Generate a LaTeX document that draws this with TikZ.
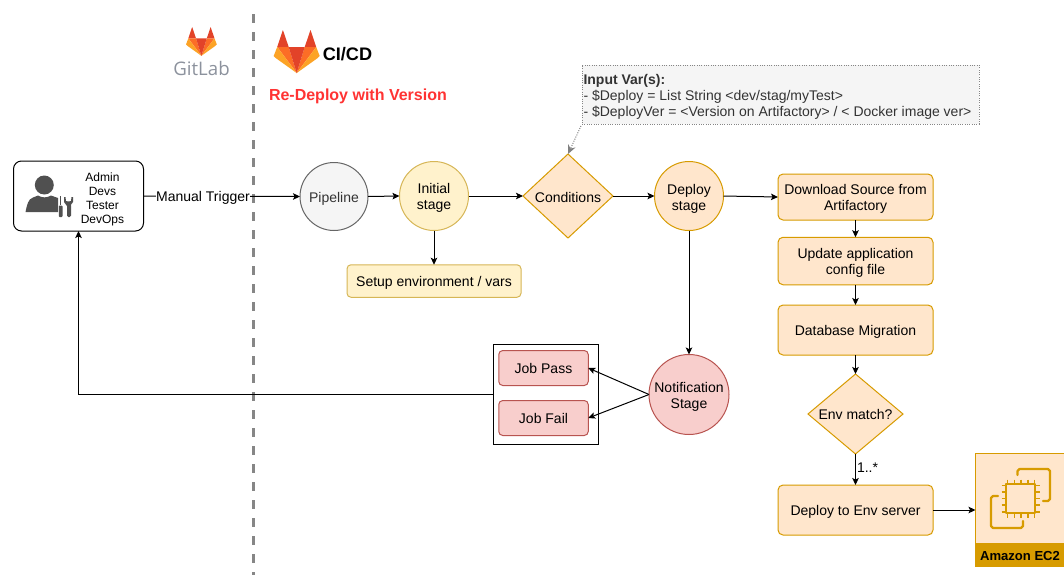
\documentclass[tikz,border=0pt]{standalone}
\usepackage{fontspec}
\setmainfont{Liberation Sans}
\newfontfamily\logofont{Open Sans}
\usetikzlibrary{arrows.meta,shapes.geometric}
\def\px{0.75pt}
\definecolor{orfill}{HTML}{FFE6CC}
\definecolor{orline}{HTML}{D79B00}
\definecolor{yefill}{HTML}{FFF2CC}
\definecolor{yeline}{HTML}{D6B656}
\definecolor{refill}{HTML}{F8CECC}
\definecolor{reline}{HTML}{B85450}
\definecolor{grfill}{HTML}{F5F5F5}
\definecolor{grline}{HTML}{666666}
\definecolor{grtext}{HTML}{333333}
\definecolor{foxa}{HTML}{E24329}
\definecolor{foxb}{HTML}{FC6D26}
\definecolor{foxc}{HTML}{FCA326}
\definecolor{iconc}{HTML}{505050}
\definecolor{logogray}{HTML}{8C929D}
\tikzset{
  x=0.75pt,y=-0.75pt,
  every node/.style={font=\fontsize{10.5pt}{12pt}\selectfont,align=center,inner sep=0pt,outer sep=0pt,line width=\px,
    execute at begin node={\rule{0pt}{10.6pt}},execute at end node={\rule[-1.7pt]{0pt}{1.7pt}}},
  conn/.style={draw=black,line width=\px,-{Stealth[length=7*\px,width=6.5*\px,inset=1.5*\px]}},
  circ/.style={circle,draw,minimum size=#1*\px},
  orbox/.style={draw=orline,fill=orfill,rounded corners=5*\px,minimum width=155*\px},
  jobbox/.style={draw=reline,fill=refill,rounded corners=4*\px,minimum width=89.5*\px,minimum height=35*\px},
  dia/.style={diamond,draw=orline,fill=orfill,inner sep=0pt},
  chip/.style={draw=orline,line width=2.2*\px,line cap=round,line join=round}
}
\newcommand{\foxlogo}[3]{% left, top, scale (width/46)
  \begin{scope}[shift={(#1,#2)},x=#3*0.75pt,y=-#3*0.75pt]
    \fill[foxa] (9.2,0) -- (3.5,17) -- (15,17) -- cycle;
    \fill[foxa] (36.8,0) -- (42.5,17) -- (31,17) -- cycle;
    \fill[foxb] (3.5,17) -- (15,17) -- (23,43) -- cycle;
    \fill[foxb] (42.5,17) -- (31,17) -- (23,43) -- cycle;
    \fill[foxc] (3.5,17) -- (0,26) -- (2,28) -- (23,43) -- cycle;
    \fill[foxc] (42.5,17) -- (46,26) -- (44,28) -- (23,43) -- cycle;
    \fill[foxa] (15,17) -- (31,17) -- (23,43) -- cycle;
  \end{scope}}
\begin{document}
\begin{tikzpicture}
\useasboundingbox (0,0) rectangle (1064,576);
\fill[white] (0,0) rectangle (1064,576);

% divider
\draw[draw=gray!95,line width=3*\px,dash pattern=on 9*\px off 9*\px] (253.5,14) -- (253.5,575);

% logos
\foxlogo{186}{27}{0.67}
\node[text=logogray,font=\logofont\fontsize{14pt}{16pt}\selectfont] (gitlab) at (201.5,69.5) {GitLab};
\foxlogo{273.7}{30}{1}
\node[font=\bfseries\fontsize{13.6pt}{15pt}\selectfont] (cicd) at (347.5,54.5) {CI/CD};
\node[anchor=west,text={rgb,255:red,255;green,51;blue,51},font=\bfseries\fontsize{12pt}{14pt}\selectfont] (title) at (269,95) {Re-Deploy with Version};

% actor
\node[draw,rounded corners=8*\px,minimum width=130*\px,minimum height=70*\px] (actor) at (78.5,196) {};
\node[font=\fontsize{9pt}{10.5pt}\selectfont] (actortext) at (102.5,199.5) {Admin\\Devs\\Tester\\DevOps};
\fill[iconc] (44.3,185) circle (9.5);
\fill[iconc] (25.5,212) .. controls (27,205) and (28,199) .. (33,197.5) -- (38,195.5) .. controls (42,198) and (47,198) .. (51,195.5) -- (58,198) -- (58,212) -- cycle;
\fill[iconc,rounded corners=0.7] (58.8,205.5) rectangle (62.5,217);
\fill[iconc] (60,196) rectangle (61.3,205);
\fill[iconc,rounded corners=1] (67,204) rectangle (71,217);
\fill[iconc] (64,197) -- (65.5,197) -- (66,201) -- (68.5,201.5) -- (71,201) -- (71.5,197) -- (73,197) -- (73,202) -- (70,206) -- (67,206) -- (64,202) -- cycle;

% flow nodes
\node[circ=68,draw=grline,fill=grfill,text=grtext] (pipeline) at (334,196.5) {Pipeline};
\node[circ=69,draw=yeline,fill=yefill] (initial) at (434,196) {};
\node (initialtext) at (434,198) {Initial\\stage};
\node[draw=yeline,fill=yefill,rounded corners=4*\px,minimum width=174*\px,minimum height=32.5*\px] (setup) at (434,281) {Setup environment / vars};
\node[dia,minimum width=90*\px,minimum height=84*\px] (cond) at (568,196) {};
\node (condtext) at (568,196.5) {Conditions};
\node[circ=69,draw=orline,fill=orfill] (deploy) at (689,196) {};
\node (deploytext) at (689,198.5) {Deploy\\stage};
\node[orbox,minimum height=46*\px] (download) at (855.5,197) {};
\node (downloadtext) at (855.5,199) {Download Source from\\Artifactory};
\node[orbox,minimum height=47.5*\px] (update) at (855.5,261) {};
\node (updatetext) at (855.5,263) {Update application\\config file};
\node[orbox,minimum height=50*\px] (db) at (855.5,330) {Database Migration};
\node[dia,minimum width=95*\px,minimum height=80*\px] (env) at (855.5,414) {};
\node (envtext) at (855.5,414) {Env match?};
\node[orbox,minimum height=50*\px] (server) at (855.5,510) {Deploy to Env server};
\node[circ=80,draw=reline,fill=refill] (notif) at (689,394.5) {};
\node (notiftext) at (689,396.5) {Notification\\Stage};
\node[draw=black,fill=white,minimum width=104.5*\px,minimum height=99.5*\px] (jobs) at (545.75,394.5) {};
\node[jobbox] (pass) at (543.5,368) {Job Pass};
\node[jobbox] (fail) at (543.5,418) {Job Fail};

% note
\node[draw=grline!80,densely dotted,fill=grfill,anchor=north west,minimum width=397*\px,minimum height=59*\px] (note) at (582,65) {};
\node[text=grtext,anchor=north west,align=left,font=\fontsize{10.5pt}{12pt}\selectfont] (notetext) at (583.5,74.5) {\textbf{Input Var(s):}\\- \$Deploy = List String <dev/stag/myTest>\\- \$DeployVer = <Version on Artifactory> / < Docker image ver>};

% EC2
\node[draw=orline,fill=orfill,anchor=north west,minimum width=92*\px,minimum height=112.5*\px] (ec2) at (975.5,453.5) {};
\node[fill=orline,anchor=north west,minimum width=92*\px,minimum height=23*\px] (ec2band) at (975.5,543) {};
\node[font=\bfseries\fontsize{9.8pt}{12pt}\selectfont] (ec2text) at (1020,554.5) {Amazon EC2};
\draw[chip] (1017.5,475) -- (1017.5,471) -- (1019.5,469) -- (1048,469) -- (1050,471) -- (1050,499) -- (1048,501) -- (1043,501);
\draw[chip] (998,496) -- (993,496) -- (991,498) -- (991,526) -- (993,528) -- (1021,528) -- (1023,526) -- (1023,521);
\draw[chip] (1006,484) rectangle (1035,513);
\foreach \t in {1007.5,1014.3,1021,1027.7,1034.5}{
  \draw[draw=orline,line width=1.6*\px] (\t,479.5) -- (\t,484);
  \draw[draw=orline,line width=1.6*\px] (\t,513) -- (\t,517.5);}
\foreach \t in {485.5,492.2,498.5,505.2,512}{
  \draw[draw=orline,line width=1.6*\px] (1001.5,\t) -- (1006,\t);
  \draw[draw=orline,line width=1.6*\px] (1035,\t) -- (1039.5,\t);}

% connectors
\draw[conn] (actor.east) -- node[fill=white,inner ysep=1*\px,pos=0.38] (trigger) {Manual Trigger} (pipeline.west);
\draw[conn] (pipeline.east) -- (initial.west);
\draw[conn] (initial.east) -- (cond.west);
\draw[conn] (initial.south) -- (setup.north);
\draw[conn] (cond.east) -- (deploy.west);
\draw[conn] (deploy.east) -- (download.west);
\draw[conn] (download.south) -- (update.north);
\draw[conn] (update.south) -- (db.north);
\draw[conn] (db.south) -- (env.north);
\draw[conn] (env.south) -- node[pos=0.42,anchor=west,xshift=1.5*\px] (mult) {1..*} (server.north);
\draw[conn] (server.east) -- (ec2.west |- server.east);
\draw[conn] (deploy.south) -- (notif.north);
\draw[conn] (notif.west) -- (pass.east);
\draw[conn] (notif.west) -- (fail.east);
\draw[conn] (jobs.west) -- (78.5,394.5) -- (actor.south);
\coordinate (notestart) at (581,126);
\draw[draw=gray,densely dotted,line width=\px,-{Stealth[length=9*\px,width=8*\px]}] (notestart) -- (cond.north);
\end{tikzpicture}
\end{document}
